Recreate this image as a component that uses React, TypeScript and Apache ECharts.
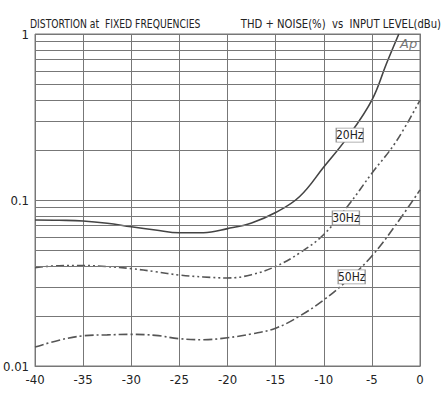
import React, { useEffect, useRef } from "react";
import * as echarts from "echarts";

const FONT = "'Liberation Sans Narrow', 'DejaVu Sans Condensed', sans-serif";

const xLevels20 = [-40, -37.5, -35, -32.5, -30, -27.5, -25, -22.5, -20, -17.5, -15, -12.5, -10, -7.5, -5, -3.5, -2.2];
const thd20 = [0.0758, 0.0755, 0.0748, 0.0725, 0.069, 0.066, 0.0635, 0.0635, 0.0672, 0.0728, 0.084, 0.105, 0.158, 0.24, 0.4, 0.66, 1.0];

const xLevels = [-40, -37.5, -35, -32.5, -30, -27.5, -25, -22.5, -20, -17.5, -15, -12.5, -10, -7.5, -5, -2.5, 0];
const thd30 = [0.0391, 0.0402, 0.0403, 0.0397, 0.0386, 0.037, 0.0353, 0.0344, 0.0339, 0.0355, 0.0398, 0.048, 0.062, 0.092, 0.145, 0.224, 0.4];
const thd50 = [0.013, 0.0143, 0.0152, 0.0154, 0.0155, 0.0153, 0.0146, 0.0144, 0.0148, 0.0156, 0.0169, 0.02, 0.025, 0.033, 0.046, 0.071, 0.115];

const minorGridValues = [0.02, 0.03, 0.04, 0.05, 0.06, 0.07, 0.08, 0.09, 0.2, 0.3, 0.4, 0.5, 0.6, 0.7, 0.8, 0.9];

const seriesNames = ["20Hz", "30Hz", "50Hz"];
const labelPositions: [number, number][] = [
  [-7.3, 0.246],
  [-7.7, 0.078],
  [-7.1, 0.0344],
];

const NB = "\u00a0";
const titleLeft = `DISTORTION at${NB} FIXED FREQUENCIES`;
const titleRight = `THD + NOISE(%)${NB} vs${NB} INPUT LEVEL(dBu)`;

function pairs(xs: number[], ys: number[]) {
  return xs.map((x, i) => [x, ys[i]]);
}

function measure(text: string, font: string) {
  const c = document.createElement("canvas").getContext("2d");
  if (!c) return text.length * 6;
  c.font = font;
  return c.measureText(text).width || text.length * 6;
}

function labelPoint(i: number) {
  return {
    silent: true,
    symbol: "rect",
    symbolSize: [27, 14],
    itemStyle: { color: "#fff", borderColor: "#999", borderWidth: 1 },
    label: {
      show: true,
      position: "inside",
      formatter: seriesNames[i],
      color: "#222",
      fontFamily: FONT,
      fontSize: 12,
    },
    data: [{ coord: labelPositions[i] }],
  };
}

export default function App() {
  const ref = useRef<HTMLDivElement>(null);
  useEffect(() => {
    if (!ref.current) return;
    const chart = echarts.init(ref.current, null, { renderer: "svg" });
    const titleFont = "11.5px 'Liberation Sans Narrow'";
    const wL = measure(titleLeft, titleFont);
    const wR = measure(titleRight, titleFont);
    const sL = (170 / wL) * 1.05;
    const sR = (199 / wR) * 1.02;
    const titleStyle = { fontFamily: FONT, fontSize: 11.5, fill: "#222" };
    chart.setOption({
      animation: false,
      backgroundColor: "#fff",
      graphic: [
        {
          type: "text",
          x: 30,
          y: 24,
          scaleX: sL,
          style: { ...titleStyle, text: titleLeft, align: "left", verticalAlign: "middle" },
        },
        {
          type: "text",
          x: 441,
          y: 24,
          scaleX: sR,
          style: { ...titleStyle, text: titleRight, align: "right", verticalAlign: "middle" },
        },
        {
          type: "text",
          x: 400,
          y: 37,
          style: { text: "Ap", fontFamily: "'DejaVu Sans', sans-serif", fontStyle: "italic", fontSize: 13, fill: "#777" },
        },
      ],
      grid: {
        left: 30,
        right: 27,
        top: 34,
        bottom: 29,
        show: true,
        borderColor: "#777",
        borderWidth: 1,
        backgroundColor: "transparent",
      },
      xAxis: {
        type: "value",
        min: -40,
        max: 0,
        interval: 5,
        axisLine: { show: true, lineStyle: { color: "#777" } },
        axisTick: { show: false },
        splitLine: { show: true, lineStyle: { color: "#777", width: 1 } },
        axisLabel: { color: "#222", fontFamily: FONT, fontSize: 13, margin: 7 },
      },
      yAxis: {
        type: "log",
        logBase: 10,
        min: 0.01,
        max: 1,
        axisLine: { show: true, lineStyle: { color: "#777" } },
        axisTick: { show: false },
        splitLine: { show: true, lineStyle: { color: "#777", width: 1 } },
        axisLabel: { color: "#222", fontFamily: FONT, fontSize: 13, margin: 6 },
      },
      series: [
        {
          type: "line",
          name: "grid",
          data: [],
          silent: true,
          z: 1,
          markLine: {
            silent: true,
            symbol: "none",
            label: { show: false },
            lineStyle: { color: "#777", width: 1, type: "solid" },
            data: minorGridValues.map((v) => ({ yAxis: v })),
          },
        },
        {
          type: "line",
          name: seriesNames[0],
          data: pairs(xLevels20, thd20),
          smooth: 0.4,
          showSymbol: false,
          z: 3,
          lineStyle: { color: "#444", width: 1.6, type: "solid" },
          markPoint: labelPoint(0),
        },
        {
          type: "line",
          name: seriesNames[1],
          data: pairs(xLevels, thd30),
          smooth: 0.4,
          showSymbol: false,
          z: 3,
          lineStyle: { color: "#555", width: 1.6, type: [8, 3, 2, 3, 2, 3] },
          markPoint: labelPoint(1),
        },
        {
          type: "line",
          name: seriesNames[2],
          data: pairs(xLevels, thd50),
          smooth: 0.4,
          showSymbol: false,
          z: 3,
          lineStyle: { color: "#555", width: 1.6, type: [9, 3, 2, 3] },
          markPoint: labelPoint(2),
        },
      ],
    });
    return () => chart.dispose();
  }, []);
  return <div ref={ref} style={{ position: "fixed", left: 0, top: 0, width: 447, height: 395 }} />;
}
